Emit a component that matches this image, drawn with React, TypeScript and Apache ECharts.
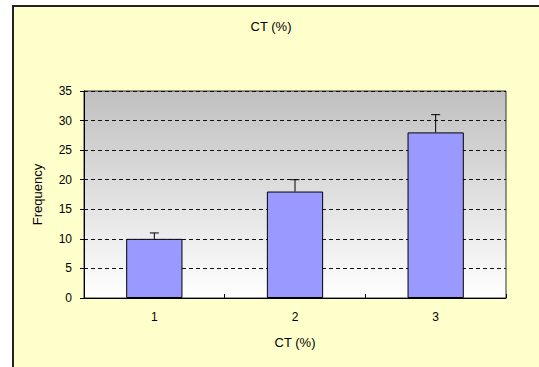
import React, { useEffect, useRef } from "react";
import * as echarts from "echarts";

// Chart data
const categories = ["1", "2", "3"];
const frequencies = [10, 18, 28];
const errorsUp = [1, 2, 3];
const yTicks = { min: 0, max: 35, interval: 5 };

const FONT = "Liberation Sans, Arial, sans-serif";

export default function App() {
  const ref = useRef<HTMLDivElement>(null);

  useEffect(() => {
    if (!ref.current) return;
    const chart = echarts.init(ref.current, undefined, { renderer: "svg" });

    const errData = frequencies.map((v, i) => [i, v, v + errorsUp[i]]);

    chart.setOption({
      animation: false,
      backgroundColor: "transparent",
      title: {
        text: "CT (%)",
        left: 271,
        top: 20,
        padding: 0,
        textAlign: "center",
        textStyle: { fontFamily: FONT, fontSize: 13, fontWeight: "normal", color: "#000" },
      },
      grid: {
        left: 84,
        top: 91,
        right: 33,
        bottom: 69,
        show: true,
        borderColor: "#333",
        borderWidth: 1,
        backgroundColor: new echarts.graphic.LinearGradient(0, 0, 0, 1, [
          { offset: 0, color: "#c0c0c0" },
          { offset: 1, color: "#ffffff" },
        ]),
      },
      xAxis: {
        type: "category",
        data: categories,
        name: "CT (%)",
        nameLocation: "middle",
        nameGap: 38,
        nameTextStyle: { fontFamily: FONT, fontSize: 13, color: "#000" },
        axisLine: { lineStyle: { color: "#000", width: 1 } },
        axisTick: { show: true, inside: true, length: 4, lineStyle: { color: "#000" } },
        axisLabel: { fontFamily: FONT, fontSize: 12, color: "#000", margin: 13 },
      },
      yAxis: {
        type: "value",
        min: yTicks.min,
        max: yTicks.max,
        interval: yTicks.interval,
        name: "Frequency",
        nameLocation: "middle",
        nameGap: 40,
        nameRotate: 90,
        nameTextStyle: { fontFamily: FONT, fontSize: 13, color: "#000" },
        axisLine: { show: true, lineStyle: { color: "#000", width: 1 } },
        axisTick: { show: true, length: 4, lineStyle: { color: "#000" } },
        axisLabel: { fontFamily: FONT, fontSize: 12, color: "#000", margin: 12 },
        splitLine: { show: true, lineStyle: { color: "#111", width: 1, type: [4, 3] } },
      },
      series: [
        {
          type: "bar",
          data: frequencies,
          barWidth: "40%",
          itemStyle: { color: "#9999ff", borderColor: "#000", borderWidth: 1 },
        },
        {
          type: "custom",
          data: errData,
          z: 5,
          renderItem: (params: any, api: any) => {
            const base = api.coord([api.value(0), api.value(1)]);
            const top = api.coord([api.value(0), api.value(2)]);
            const half = 4.5;
            const style = { stroke: "#000", lineWidth: 1 };
            return {
              type: "group",
              children: [
                { type: "line", shape: { x1: base[0], y1: base[1], x2: top[0], y2: top[1] }, style },
                { type: "line", shape: { x1: top[0] - half, y1: top[1], x2: top[0] + half, y2: top[1] }, style },
              ],
            };
          },
        },
      ],
    });

    return () => chart.dispose();
  }, []);

  return (
    <div
      style={{
        position: "fixed",
        left: 0,
        top: 0,
        width: 539,
        height: 367,
        overflow: "hidden",
        background: "#ffffff",
      }}
    >
      <div
        style={{
          position: "absolute",
          left: 12,
          top: 5,
          width: 600,
          height: 420,
          background: "#ffffcc",
          border: "2px solid #222",
          boxSizing: "border-box",
        }}
      />
      <div ref={ref} style={{ position: "absolute", left: 0, top: 0, width: 539, height: 367 }} />
    </div>
  );
}
